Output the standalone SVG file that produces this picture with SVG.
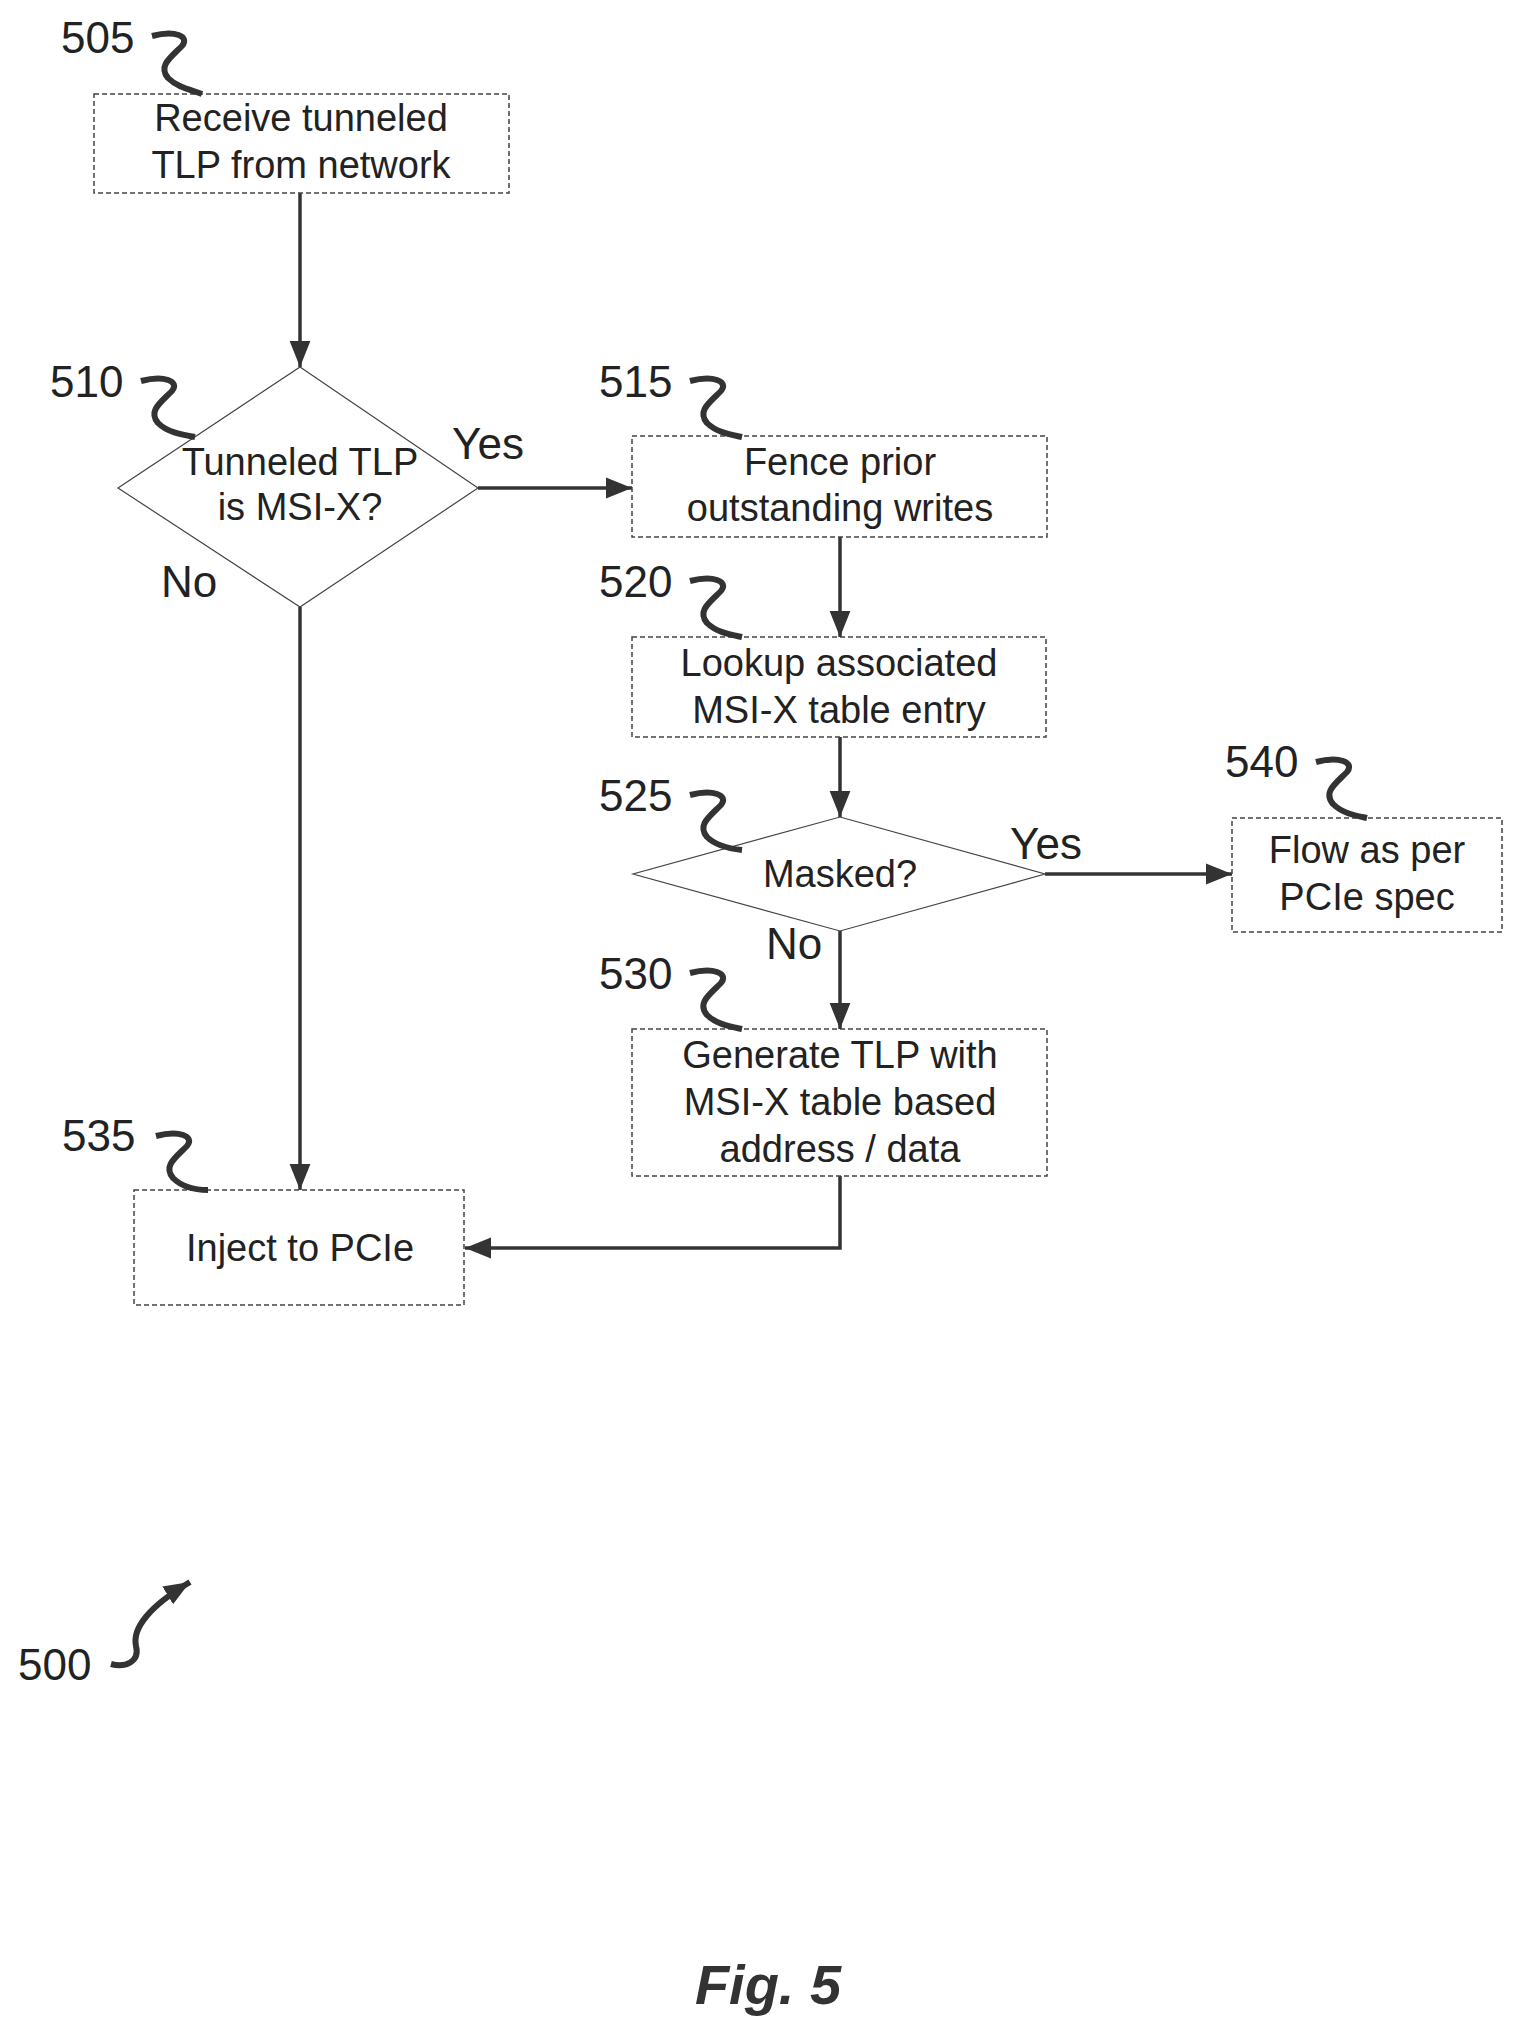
<svg xmlns="http://www.w3.org/2000/svg" width="1516" height="2033" viewBox="0 0 1516 2033">
<style>
.box{fill:none;stroke:#444;stroke-width:1.5;stroke-dasharray:5 3}
.dia{fill:none;stroke:#444;stroke-width:1.2}
.t{font-family:"Liberation Sans",Arial,sans-serif;font-size:38px;fill:#222;text-anchor:middle}
.ref{font-family:"Liberation Sans",Arial,sans-serif;font-size:44px;fill:#222}
.sq{fill:none;stroke:#333;stroke-width:6}
.c{fill:none;stroke:#333;stroke-width:3.5}
</style>
<defs>
<marker id="a" viewBox="0 0 10 10" refX="10" refY="5" markerWidth="26" markerHeight="26" markerUnits="userSpaceOnUse" orient="auto">
<path d="M0,1 L10,5 L0,9 z" fill="#333"/>
</marker>
</defs>
<g id="connectors">
<path class="c" d="M300,193 V367" marker-end="url(#a)"/>
<path class="c" d="M478,488 H632" marker-end="url(#a)"/>
<path class="c" d="M840,537 V637" marker-end="url(#a)"/>
<path class="c" d="M840,737 V817" marker-end="url(#a)"/>
<path class="c" d="M1045,874 H1232" marker-end="url(#a)"/>
<path class="c" d="M840,931 V1029" marker-end="url(#a)"/>
<path class="c" d="M840,1176 V1248 H465" marker-end="url(#a)"/>
<path class="c" d="M300,607 V1190" marker-end="url(#a)"/>
<text class="ref" x="488" y="459" text-anchor="middle">Yes</text>
<text class="ref" x="189" y="597" text-anchor="middle">No</text>
<text class="ref" x="1046" y="859" text-anchor="middle">Yes</text>
<text class="ref" x="794" y="959" text-anchor="middle">No</text>
</g>
<g id="n505">
<rect class="box" x="94" y="94" width="415" height="99"/>
<text class="t" x="301" y="131">Receive tunneled</text>
<text class="t" x="301" y="178">TLP from network</text>
<text class="ref" x="61" y="53">505</text>
<path class="sq" d="M152,36 C175,30 190,36 182,46 C170,58 158,66 168,78 C178,88 192,90 202,94"/>
</g>
<g id="n510">
<path class="dia" d="M300,367 L478,488 L300,607 L118,488 Z"/>
<text class="t" x="300" y="475">Tunneled TLP</text>
<text class="t" x="300" y="520">is MSI-X?</text>
<text class="ref" x="50" y="397">510</text>
<path class="sq" d="M141,381 C164,375 180,381 172,391 C160,403 148,411 158,423 C168,433 184,435 195,437"/>
</g>
<g id="n515">
<rect class="box" x="632" y="436" width="415" height="101"/>
<text class="t" x="840" y="475">Fence prior</text>
<text class="t" x="840" y="521">outstanding writes</text>
<text class="ref" x="599" y="397">515</text>
<path class="sq" d="M690,381 C713,375 729,381 721,391 C709,403 697,411 707,423 C717,433 733,435 742,437"/>
</g>
<g id="n520">
<rect class="box" x="632" y="637" width="414" height="100"/>
<text class="t" x="839" y="676">Lookup associated</text>
<text class="t" x="839" y="723">MSI-X table entry</text>
<text class="ref" x="599" y="597">520</text>
<path class="sq" d="M690,581 C713,575 729,581 721,591 C709,603 697,611 707,623 C717,633 733,635 742,637"/>
</g>
<g id="n525">
<path class="dia" d="M840,817 L1045,874 L840,931 L633,874 Z"/>
<text class="t" x="840" y="887">Masked?</text>
<text class="ref" x="599" y="811">525</text>
<path class="sq" d="M690,795 C713,789 729,795 721,805 C709,817 697,825 707,837 C717,847 733,849 742,850"/>
</g>
<g id="n540">
<rect class="box" x="1232" y="818" width="270" height="114"/>
<text class="t" x="1367" y="863">Flow as per</text>
<text class="t" x="1367" y="910">PCIe spec</text>
<text class="ref" x="1225" y="777">540</text>
<path class="sq" d="M1316,762 C1339,756 1355,762 1347,772 C1335,784 1323,792 1333,804 C1343,814 1358,816 1367,818"/>
</g>
<g id="n530">
<rect class="box" x="632" y="1029" width="415" height="147"/>
<text class="t" x="840" y="1068">Generate TLP with</text>
<text class="t" x="840" y="1115">MSI-X table based</text>
<text class="t" x="840" y="1162">address / data</text>
<text class="ref" x="599" y="989">530</text>
<path class="sq" d="M690,973 C713,967 729,973 721,983 C709,995 697,1003 707,1015 C717,1025 733,1027 742,1029"/>
</g>
<g id="n535">
<rect class="box" x="134" y="1190" width="330" height="115"/>
<text class="t" x="300" y="1261">Inject to PCIe</text>
<text class="ref" x="62" y="1151">535</text>
<path class="sq" d="M156,1136 C179,1130 195,1136 187,1146 C175,1158 163,1166 173,1178 C183,1188 198,1190 208,1190"/>
</g>
<g id="n500">
<text class="ref" x="18" y="1680">500</text>
<path class="sq" d="M111,1664 C125,1668 140,1662 136,1646 C132,1628 150,1606 190,1582" marker-end="url(#a)"/>
</g>
<text x="768" y="2004" font-family="Liberation Sans,Arial,sans-serif" font-size="56" font-weight="bold" font-style="italic" fill="#333" text-anchor="middle">Fig. 5</text>
</svg>
